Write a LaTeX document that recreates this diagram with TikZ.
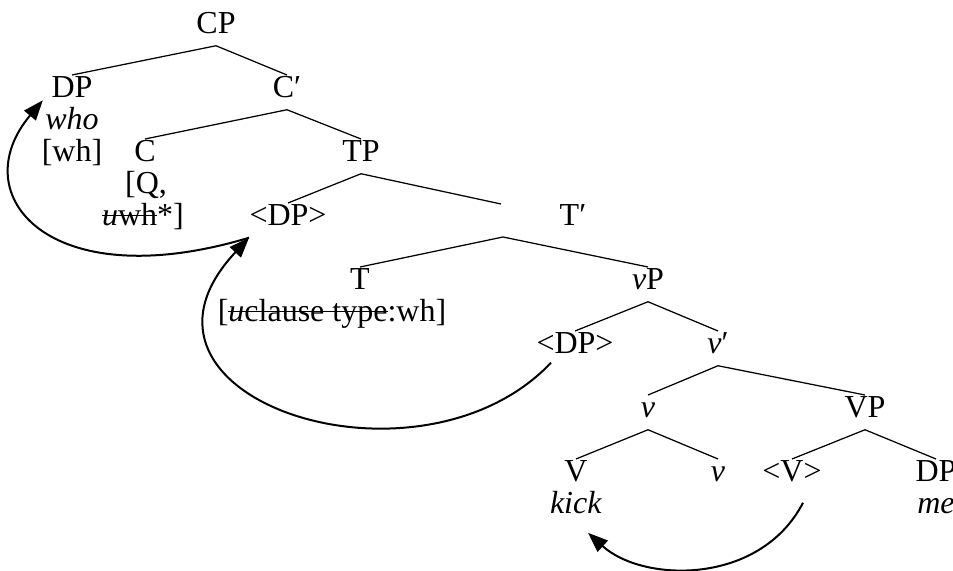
\documentclass[tikz,border=0pt]{standalone}
\usepackage{fontspec}
\setmainfont{Liberation Serif}
\usetikzlibrary{calc,arrows.meta}
\newcommand\strk[1]{\setbox0\hbox{#1}\rlap{\rule[0.3em]{\wd0}{0.6pt}}\box0}

\tikzset{
  lab/.style={anchor=base, inner sep=0pt, text height=9pt, text depth=4.5pt, font=\fontsize{12.8pt}{14pt}\selectfont},
  feat/.style={anchor=base, inner sep=0pt, font=\fontsize{12.8pt}{14pt}\selectfont},
  branch/.style={line width=0.5pt},
  move/.style={line width=0.8pt, -{Triangle[length=8pt,width=6pt]}}
}

\begin{document}
\begin{tikzpicture}[x=0.4pt, y=-0.4pt]
			%%%%% START %%%%%
			\useasboundingbox (0, 0) rectangle (953, 571);
			
			\node[lab] (CP) at (216, 34) {CP};
			\node[lab] (DP) at (72, 98) {DP};
			\node[feat] (who) at (72, 130) {\textit{who}};
			\node[feat] (wh) at (72, 162) {[wh]};
			\node[lab] (Cb) at (287, 98) {C′};
			\node[lab] (C) at (145, 162) {C};
			\node[feat] (Q) at (146, 194) {[Q,};
			\node[feat] (uwh) at (143, 226) {\strk{\textit{u}wh}*]};
			\node[lab] (TP) at (361, 162) {TP};
			\node[lab] (DPt) at (288, 226) {<DP>};
			\node[lab] (Tb) at (573, 226) {T′};
			\node[lab] (T) at (360, 290) {T};
			\node[feat] (ctype) at (332, 322) {[\strk{\textit{u}clause type}:wh]};
			\node[lab] (vP) at (648, 290) {\textit{v}P};
			\node[lab] (DPv) at (575, 354) {<DP>};
			\node[lab] (vb) at (718, 354) {\textit{v}′};
			\node[lab] (v) at (648, 418) {\textit{v}};
			\node[lab] (VP) at (865, 418) {VP};
			\node[lab] (V) at (576, 482) {V};
			\node[feat] (kick) at (576, 514) {\textit{kick}};
			\node[lab] (vh) at (718, 482) {\textit{v}};
			\node[lab] (Vt) at (792, 482) {<V>};
			\node[lab] (DPo) at (936, 482) {DP};
			\node[feat] (me) at (936, 514) {\textit{me}};
			
			\coordinate (Tb-in) at (501, 204);
			\coordinate (Tb-out) at (503, 237);
			
			\draw[branch] (CP.south) -- (DP.north);
			\draw[branch] (CP.south) -- (Cb.north);
			\draw[branch] (Cb.south) -- (C.north);
			\draw[branch] (Cb.south) -- (TP.north);
			\draw[branch] (TP.south) -- (DPt.north);
			\draw[branch] (TP.south) -- (Tb-in);
			\draw[branch] (Tb-out) -- (T.north);
			\draw[branch] (Tb-out) -- (vP.north);
			\draw[branch] (vP.south) -- (DPv.north);
			\draw[branch] (vP.south) -- (vb.north);
			\draw[branch] (vb.south) -- (v.north);
			\draw[branch] (vb.south) -- (VP.north);
			\draw[branch] (v.south) -- (V.north);
			\draw[branch] (v.south) -- (vh.north);
			\draw[branch] (VP.south) -- (Vt.north);
			\draw[branch] (VP.south) -- (DPo.north);
			
			\draw[move] (DPt.south west) .. controls +(-200, 60) and +(-80, 95) .. ($(who.north west)+(-2, -7)$);
			\draw[move] ($(DPv.south west)+(15, -3)$) .. controls +(-133, 140) and +(-150, 160) .. (DPt.south west);
			\draw[move] ($(Vt.south)+(11, 9)$) .. controls +(-43, 83) and +(55, 50) .. ($(kick.south)+(12, 18)$);
			
			%%%%% END %%%%%
\end{tikzpicture}
\end{document}
